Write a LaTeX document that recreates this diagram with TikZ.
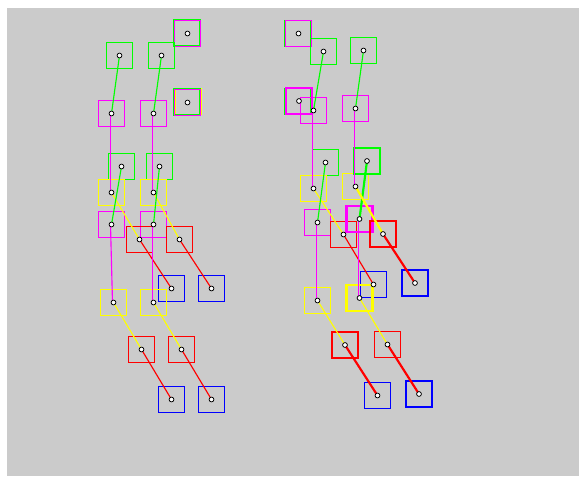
\documentclass[tikz,border=0pt]{standalone}
\usepackage{tikz}
\usepackage{xcolor}
\definecolor{panel}{HTML}{CBCBCB}
\definecolor{leaf}{HTML}{00FF00}
\definecolor{orchid}{HTML}{FF00FF}
\definecolor{lemon}{HTML}{FFFF00}
\definecolor{scarlet}{HTML}{FF0000}
\definecolor{cobalt}{HTML}{0000FF}
\tikzset{
    box/.style={draw, rectangle, minimum size=19.5pt, inner sep=0pt, line width=0.8pt},
    heavy/.style={line width=1.6pt},
    link/.style={line width=0.85pt},
    pin/.style={circle, draw=black, fill=white, inner sep=0pt, minimum size=3.6pt, line width=0.6pt}
}

\begin{document}
\begin{tikzpicture}[x=0.75pt,y=-0.75pt]
    % Canvas
    \useasboundingbox (0,0) rectangle (579,476);
    \fill[white] (0,0) rectangle (579,476);
    \fill[panel] (7,8) rectangle (579,476);

    % Left tree: stray boxes
    \node[box, heavy, draw=leaf] (ax1g) at (187,33) {};
    \node[box, draw=orchid] (ax1) at (187.5,33.5) {};
    \node[box, draw=lemon] (ax2y) at (188.5,101.5) {};
    \node[box, heavy, draw=leaf] (ax2g) at (187,102) {};
    \node[box, draw=orchid] (ax2) at (187.5,102.5) {};

    % Left tree: boxes
    \foreach \n/\c/\x/\y in {
        ag1/leaf/119.5/55.5, ag2/leaf/161.5/55.5,
        am1/orchid/111.5/113.5, am2/orchid/153.5/113.5,
        ag3/leaf/121.5/166.5, ag4/leaf/159.5/166.5,
        ay1/lemon/111.5/192.5, ay2/lemon/153.5/192.5,
        am3/orchid/111.5/224.5, am4/orchid/153.5/224.5,
        ar1/scarlet/139.5/239.5, ar2/scarlet/179.5/239.5,
        ab1/cobalt/171.5/288.5, ab2/cobalt/211.5/288.5,
        ay3/lemon/113.5/302.5, ay4/lemon/153.5/302.5,
        ar3/scarlet/141.5/349.5, ar4/scarlet/181.5/349.5,
        ab3/cobalt/171.5/399.5, ab4/cobalt/211.5/399.5} {
        \node[box, draw=\c] (\n) at (\x,\y) {};
    }

    % Right tree: stray boxes
    \node[box, draw=leaf] (bx1g) at (297.5,33.5) {};
    \node[box, draw=orchid] (bx1) at (298.5,33.5) {};
    \node[box, draw=leaf] (bx2g) at (297.5,101.5) {};
    \node[box, heavy, draw=orchid] (bx2) at (299,101) {};

    % Right tree: boxes
    \foreach \n/\c/\x/\y in {
        bg1/leaf/323.5/51.5, bg2/leaf/363.5/50.5,
        bm1/orchid/313.5/110.5, bm2/orchid/355.5/108.5,
        bg3/leaf/325.5/162.5, by1/lemon/313.5/188.5,
        by2/lemon/355.5/186.5, bm3/orchid/317.5/222.5,
        br1/scarlet/343.5/234.5, bb1/cobalt/373.5/284.5,
        by3/lemon/317.5/300.5, br4/scarlet/387.5/344.5,
        bb3/cobalt/377.5/395.5} {
        \node[box, draw=\c] (\n) at (\x,\y) {};
    }
    \foreach \n/\c/\x/\y in {
        bg4/leaf/367/161, bm4/orchid/359.5/219,
        br2/scarlet/383/234, bb2/cobalt/415/283,
        by4/lemon/359.5/298, br3/scarlet/345/345,
        bb4/cobalt/419/394} {
        \node[box, heavy, draw=\c] (\n) at (\x,\y) {};
    }

    % Links
    \foreach \p in {a,b} {
        \foreach \i in {1,2,3,4} {
            \draw[link, leaf] (\p g\i.center) -- (\p m\i.center);
            \draw[link, orchid] ([xshift=-0.75pt]\p m\i.center) -- ([xshift=-0.75pt]\p y\i.center);
            \draw[link, lemon] (\p y\i.center) -- (\p r\i.center);
            \draw[link, scarlet] (\p r\i.center) -- (\p b\i.center);
        }
    }
    % Heavy links
    \draw[heavy, leaf] (bg4.center) -- (bm4.center);
    \draw[heavy, lemon] (by2.center) -- (br2.center);
    \foreach \i in {2,3,4} {
        \draw[heavy, scarlet] (br\i.center) -- (bb\i.center);
    }

    % Pins
    \node[pin] (ax1-pin) at (ax1.center) {};
    \node[pin] (ax2-pin) at (ax2.center) {};
    \node[pin] (bx1-pin) at (bx1.center) {};
    \node[pin] (bx2-pin) at (bx2.center) {};
    \foreach \p in {a,b} {
        \foreach \k in {g,m,y,r,b} {
            \foreach \i in {1,2,3,4} {
                \node[pin] (\p\k\i-pin) at (\p\k\i.center) {};
            }
        }
    }
\end{tikzpicture}
\end{document}
